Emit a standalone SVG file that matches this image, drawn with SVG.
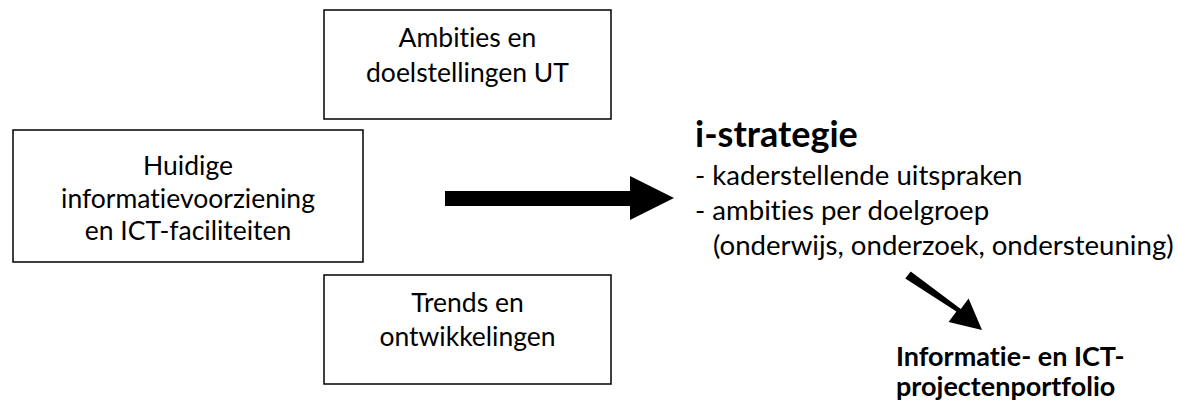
<svg xmlns="http://www.w3.org/2000/svg" width="1178" height="405" viewBox="0 0 1178 405">
<style>
.box{fill:#fff;stroke:#000;stroke-width:1.5}
.t{font-family:Lato,"Liberation Sans",sans-serif;font-size:26.5px;fill:#000;font-variant-ligatures:none;font-feature-settings:"liga" 0,"dlig" 0}
.r{font-size:27.6px}
.c{text-anchor:middle}
.b{font-weight:bold}
.arr{fill:#000;stroke:none}
</style>
<rect width="1178" height="405" fill="#fff"/>
<g id="ambities">
<rect class="box" x="324" y="10" width="287" height="109"/>
<text class="t c" x="467.5" y="47">Ambities en</text>
<text class="t c" x="467.5" y="82">doelstellingen UT</text>
</g>
<g id="huidige">
<rect class="box" x="13" y="130" width="350" height="132"/>
<text class="t c" x="188" y="175">Huidige</text>
<text class="t c" x="188" y="208">informatievoorziening</text>
<text class="t c" x="188" y="240">en ICT-faciliteiten</text>
</g>
<g id="trends">
<rect class="box" x="324" y="275" width="287" height="109"/>
<text class="t c" x="467.5" y="312">Trends en</text>
<text class="t c" x="467.5" y="346">ontwikkelingen</text>
</g>
<g id="istrategie">
<text class="t b" x="695" y="147" style="font-size:36px">i-strategie</text>
<text class="t r" x="695" y="185">- kaderstellende uitspraken</text>
<text class="t r" x="695" y="220">- ambities per doelgroep</text>
<text class="t r" x="713" y="255">(onderwijs, onderzoek, ondersteuning)</text>
</g>
<g id="portfolio">
<text class="t b" x="896" y="366" style="font-size:27px">Informatie- en ICT-</text>
<text class="t b" x="896" y="396" style="font-size:27px">projectenportfolio</text>
</g>
<g id="connectors">
<polygon class="arr" points="445,191 630,191 630,176 674,198 630,220 630,206 445,206"/>
<polygon class="arr" points="905.3,278.6 910.7,271.4 960.8,308.9 968.6,298.5 982,330 948.6,321.9 956.4,311.5"/>
</g>
</svg>
